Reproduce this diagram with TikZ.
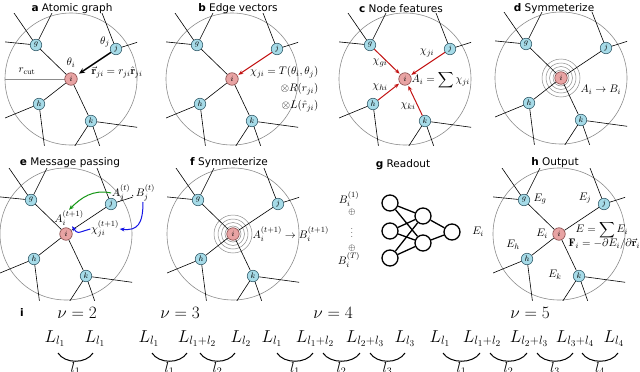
\documentclass[tikz,border=0pt]{standalone}
\usepackage{amsmath}
\usepackage{fontspec}
\setsansfont{DejaVu Sans}
\usetikzlibrary{arrows.meta,backgrounds,calc}
\definecolor{nbfill}{RGB}{166,219,232}
\definecolor{nbdraw}{RGB}{55,95,110}
\definecolor{ctrfill}{RGB}{232,163,163}
\definecolor{ctrdraw}{RGB}{130,70,70}
\definecolor{ringgray}{RGB}{140,140,140}
\definecolor{edgered}{RGB}{195,20,20}
\definecolor{msggreen}{RGB}{20,150,20}
\definecolor{msgblue}{RGB}{20,20,230}
\tikzset{
  nb/.style={circle, fill=nbfill, draw=nbdraw, line width=0.6pt, minimum size=11.5pt, inner sep=0pt, font=\fontsize{8}{8}\selectfont},
  ctr/.style={nb, fill=ctrfill, draw=ctrdraw, minimum size=12.5pt},
  ring/.style={draw=ringgray, line width=0.6pt},
  ripple/.style={draw=ringgray, line width=0.5pt},
  bond/.style={draw=black, line width=0.6pt},
  cutline/.style={draw=ringgray, line width=0.5pt},
  redarr/.style={draw=edgered, line width=1pt, -{Stealth[length=5pt,width=4pt]}, shorten >=1pt},
  blackarr/.style={draw=black, line width=1.4pt, -{Stealth[length=6pt,width=5pt]}, shorten >=3pt},
  greenarr/.style={draw=msggreen, line width=1pt, -{Stealth[length=5pt,width=4pt]}},
  bluearr/.style={draw=msgblue, line width=1pt, -{Stealth[length=5pt,width=4pt]}},
  lab/.style={inner sep=0.5pt, font=\fontsize{11}{13}\selectfont},
  smalllab/.style={inner sep=0pt, font=\fontsize{9}{10}\selectfont},
  title/.style={font=\sffamily\fontsize{10.5}{12}\selectfont, inner sep=0pt},
  nn/.style={circle, draw=black, fill=white, line width=1.3pt, minimum size=16pt, inner sep=0pt},
  nnedge/.style={draw=black, line width=1.3pt},
  big/.style={inner sep=0pt, font=\fontsize{18}{20}\selectfont},
  lowlab/.style={inner sep=0pt, font=\fontsize{14}{16}\selectfont},
  brace/.style={draw=black, line width=1pt},
}
\newcommand\atomgraph{%
  \node[ctr] (i) at (0,0) {$i$};
  \node[nb] (g) at (-35,-34) {$g$};
  \node[nb] (j) at (45,-30) {$j$};
  \node[nb] (h) at (-32,25) {$h$};
  \node[nb] (k) at (20,42) {$k$};
  \begin{scope}[on background layer]
    \draw[ring] (i.center) circle[radius=66pt];
    \begin{scope}
      \clip (-66,-66) rectangle (66,66);
      \draw[bond] (g.center) -- ++(-44,-64);
      \draw[bond] (g.center) -- ++(30,-60);
      \draw[bond] (g.center) -- ++(-60,-6);
      \draw[bond] (j.center) -- ++(-28,-72);
      \draw[bond] (j.center) -- ++(38,-12);
      \draw[bond] (h.center) -- ++(-68,28);
      \draw[bond] (h.center) -- ++(8,62);
      \draw[bond] (k.center) -- ++(88,12);
      \draw[bond] (k.center) -- ++(-26,40);
      \draw[bond] (k.center) -- ++(14,40);
    \end{scope}
  \end{scope}
}
\newcommand\plainedges{%
  \begin{scope}[on background layer]
    \draw[bond] (i)--(g) (i)--(j) (i)--(h) (i)--(k);
  \end{scope}
}
\newcommand\ripples{%
  \begin{scope}[on background layer]
    \foreach \rr in {8,11.5,15,19}{\draw[ripple] (i.center) circle[radius=\rr pt];}
  \end{scope}
}
\newcommand\liarc[6]{%
  \draw[brace] ($(#1.base)+(#3,11)$) coordinate (#5s) .. controls +(7,11) and +(-7,11) .. ($(#2.base)+(#4,11)$) coordinate (#5e);
  \node[lowlab, anchor=north] (#5) at ($(#5s)!0.5!(#5e)+(0,9)$) {$#6$};
}
\begin{document}
\begin{tikzpicture}[x=1pt,y=-1pt]
\begin{scope}[on background layer]
  \fill[white] (0,0) rectangle (640,372);
\end{scope}
\useasboundingbox (0,0) rectangle (640,372);

% titles
\node[title] (ta) at (72,9) {\textbf{a} Atomic graph};
\node[title] (tb) at (238,9) {\textbf{b} Edge vectors};
\node[title] (tc) at (401,9) {\textbf{c} Node features};
\node[title] (td) at (554,9) {\textbf{d} Symmeterize};
\node[title] (te) at (70,163) {\textbf{e} Message passing};
\node[title] (tf) at (229,163) {\textbf{f} Symmeterize};
\node[title] (tg) at (403,165) {\textbf{g} Readout};
\node[title] (th) at (555,163) {\textbf{h} Output};
\node[title] (ti) at (22,313) {\textbf{i}};

% panel a
\begin{scope}[shift={(71,79)}, name prefix=a-]
  \atomgraph
  \begin{scope}[on background layer]
    \draw[bond] (i)--(g) (i)--(h) (i)--(k);
    \draw[cutline] (i.center) -- (-66,0);
  \end{scope}
  \draw[blackarr] (j) -- (i);
  \node[lab] (thi) at (0,-16) {$\theta_i$};
  \node[lab] (thj) at (34,-37) {$\theta_j$};
  \node[lab] (rc) at (-44,-8) {$r_{\mathrm{cut}}$};
  \node[lab, anchor=west] (rv) at (20,-7) {$\vec{\mathbf r}_{ji} = r_{ji}\hat{\mathbf r}_{ji}$};
\end{scope}

% panel b
\begin{scope}[shift={(232,79)}, name prefix=b-]
  \atomgraph
  \begin{scope}[on background layer]
    \draw[bond] (i)--(g) (i)--(h) (i)--(k);
  \end{scope}
  \draw[redarr] (j) -- (i);
  \node[lab, anchor=east] (t1) at (87,-7) {$\chi_{ji} = T(\theta_i,\theta_j)$};
  \node[lab, anchor=east] (t2) at (87,10) {$\otimes R(r_{ji})$};
  \node[lab, anchor=east] (t3) at (87,27) {$\otimes L(\hat{r}_{ji})$};
\end{scope}

% panel c
\begin{scope}[shift={(405,79)}, name prefix=c-]
  \atomgraph
  \draw[redarr] (g) -- (i);
  \draw[redarr] (j) -- (i);
  \draw[redarr] (h) -- (i);
  \draw[redarr] (k) -- (i);
  \node[lab] (cg) at (-25,-16) {$\chi_{gi}$};
  \node[lab] (cj) at (22,-26) {$\chi_{ji}$};
  \node[lab] (ch) at (-25,8) {$\chi_{hi}$};
  \node[lab] (ck) at (3,27) {$\chi_{ki}$};
  \node[lab, anchor=west] (ca) at (6,1) {$A_i = \displaystyle\sum \chi_{ji}$};
\end{scope}

% panel d
\begin{scope}[shift={(561,78)}, name prefix=d-]
  \atomgraph
  \ripples
  \plainedges
  \node[lab, anchor=west] (dl) at (19,12) {$A_i \rightarrow B_i$};
\end{scope}

% panel e
\begin{scope}[shift={(66,234)}, name prefix=e-]
  \atomgraph
  \plainedges
  \node[lab] (Ajt) at (55,-41) {$A_j^{(t)}$};
  \node[lab] (Bjt) at (77,-41) {$,B_j^{(t)}$};
  \node[lab] (Ai1) at (3,-16) {$A_i^{(t+1)}$};
  \node[lab] (chi) at (39,-5) {$\chi_{ji}^{(t+1)}$};
  \draw[greenarr] (Ajt.west) .. controls +(-18,-4) and +(12,-12) .. (Ai1.north);
  \draw[bluearr] (Bjt.south) .. controls +(0,22) and +(18,2) .. (chi.east);
  \draw[bluearr] (chi.west) .. controls +(-14,4) and +(6,8) .. ([xshift=3pt]Ai1.south);
\end{scope}

% panel f
\begin{scope}[shift={(233,234)}, name prefix=f-]
  \atomgraph
  \ripples
  \plainedges
  \node[lab, anchor=west] (fl) at (19,0) {$A_i^{(t+1)} \rightarrow B_i^{(t+1)}$};
\end{scope}

% panel g
\node[nn] (n1) at (390,203) {};
\node[nn] (n2) at (390,231) {};
\node[nn] (n3) at (390,258) {};
\node[nn] (m1) at (423,216) {};
\node[nn] (m2) at (423,243) {};
\node[nn] (o) at (452,232) {};
\begin{scope}[on background layer]
  \draw[nnedge] (n1)--(m1) (n1)--(m2) (n2)--(m1) (n2)--(m2) (n3)--(m1) (n3)--(m2) (m1)--(o) (m2)--(o);
\end{scope}
\node[lab] (B1) at (349,199) {$B_i^{(1)}$};
\node[smalllab] (op1) at (352,212) {$\oplus$};
\node[smalllab] (vd) at (352,230) {$\vdots$};
\node[smalllab] (op2) at (352,248) {$\oplus$};
\node[lab] (BT) at (349,260) {$B_i^{(T)}$};
\node[lab] (Eo) at (478,232) {$E_i$};

% panel h
\begin{scope}[shift={(559,234)}, name prefix=h-]
  \atomgraph
  \plainedges
  \node[lab] (Eg) at (-19,-35) {$E_g$};
  \node[lab] (Ej) at (26,-36) {$E_j$};
  \node[lab] (Ei) at (-17,0) {$E_i$};
  \node[lab] (Eh) at (-46,11) {$E_h$};
  \node[lab] (Ek) at (-4,41) {$E_k$};
  \node[lab, anchor=west] (Es) at (16,-4) {$E = \displaystyle\sum E_i$};
  \node[lab, anchor=west] (Fi) at (9,10) {$\mathbf{F}_i = -\partial E_i/\partial\vec{\mathbf r}_i$};
\end{scope}

% panel i
\node[big] (nu2) at (77,313) {$\nu=2$};
\node[big] (nu3) at (180,313) {$\nu=3$};
\node[big] (nu4) at (333,313) {$\nu=4$};
\node[big] (nu5) at (530,313) {$\nu=5$};

\node[big, anchor=base] (L21) at (55,342) {$L_{l_1}$};
\node[big, anchor=base] (L22) at (95,342) {$L_{l_1}$};
\liarc{L21}{L22}{3}{-2}{l21}{l_1}

\node[big, anchor=base] (L31) at (149,342) {$L_{l_1}$};
\node[big, anchor=base] (L32) at (197,342) {$L_{l_1+l_2}$};
\node[big, anchor=base] (L33) at (241,342) {$L_{l_2}$};
\liarc{L31}{L32}{3}{-10}{l31}{l_1}
\liarc{L32}{L33}{3}{-6}{l32}{l_2}

\node[big, anchor=base] (L41) at (272,342) {$L_{l_1}$};
\node[big, anchor=base] (L42) at (315,342) {$L_{l_1+l_2}$};
\node[big, anchor=base] (L43) at (365,342) {$L_{l_2+l_3}$};
\node[big, anchor=base] (L44) at (405,342) {$L_{l_3}$};
\liarc{L41}{L42}{5}{-2}{l41}{l_1}
\liarc{L42}{L43}{8}{-5}{l42}{l_2}
\liarc{L43}{L44}{5}{0}{l43}{l_3}

\node[big, anchor=base] (L51) at (440,342) {$L_{l_1}$};
\node[big, anchor=base] (L52) at (482,342) {$L_{l_1+l_2}$};
\node[big, anchor=base] (L53) at (529,342) {$L_{l_2+l_3}$};
\node[big, anchor=base] (L54) at (575,342) {$L_{l_3+l_4}$};
\node[big, anchor=base] (L55) at (614,342) {$L_{l_4}$};
\liarc{L51}{L52}{3}{-2}{l51}{l_1}
\liarc{L52}{L53}{8}{-2}{l52}{l_2}
\liarc{L53}{L54}{8}{-2}{l53}{l_3}
\liarc{L54}{L55}{7}{4}{l54}{l_4}
\end{tikzpicture}
\end{document}
